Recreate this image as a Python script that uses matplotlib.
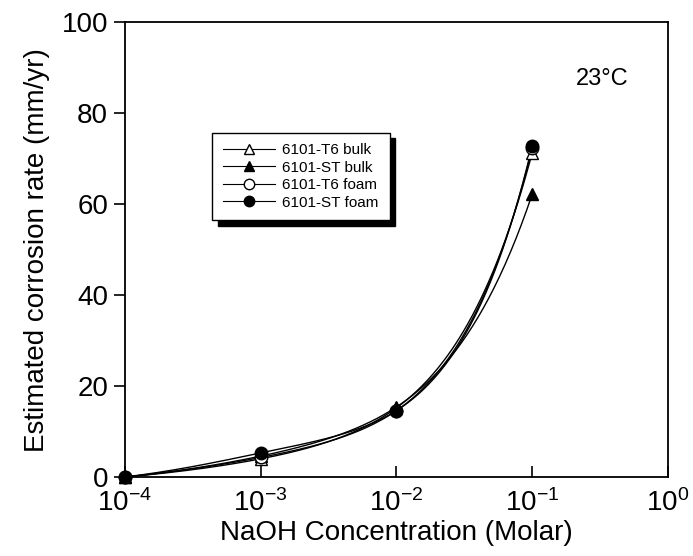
import numpy as np
import matplotlib
matplotlib.use("Agg")
import matplotlib.pyplot as plt

plt.rcParams['font.family'] = ['Liberation Sans', 'DejaVu Sans']
plt.rcParams['mathtext.fontset'] = 'custom'
plt.rcParams['mathtext.rm'] = 'Liberation Sans'
plt.rcParams['mathtext.it'] = 'Liberation Sans'
plt.rcParams['axes.unicode_minus'] = False

conc = [1e-4, 1e-3, 1e-2, 1e-1]
t6_bulk = [0.0, 4.0, 15.2, 71.3]
st_bulk = [0.0, 4.6, 15.4, 62.2]
t6_foam = [0.0, 4.3, 14.6, 72.3]
st_foam = [0.0, 5.3, 14.6, 72.8]

labels = ['6101-T6 bulk', '6101-ST bulk', '6101-T6 foam', '6101-ST foam']
markers = ['^', '^', 'o', 'o']
faces = ['white', 'black', 'white', 'black']


def spline(xs, ys, n=300, off=4.0):
    # natural cubic spline of log(y+off) against log10(x), for a smooth curve
    x = np.log10(xs)
    y = np.log(np.array(ys, dtype=float) + off)
    m = len(x)
    h = np.diff(x)
    A = np.zeros((m, m))
    r = np.zeros(m)
    A[0, 0] = 1
    A[-1, -1] = 1
    for i in range(1, m - 1):
        A[i, i - 1] = h[i - 1]
        A[i, i] = 2 * (h[i - 1] + h[i])
        A[i, i + 1] = h[i]
        r[i] = 3 * ((y[i + 1] - y[i]) / h[i] - (y[i] - y[i - 1]) / h[i - 1])
    c = np.linalg.solve(A, r)
    xx = np.linspace(x[0], x[-1], n)
    yy = np.zeros(n)
    for k, xv in enumerate(xx):
        i = min(np.searchsorted(x, xv, side='right') - 1, m - 2)
        d = xv - x[i]
        b = (y[i + 1] - y[i]) / h[i] - h[i] * (2 * c[i] + c[i + 1]) / 3
        dd = (c[i + 1] - c[i]) / (3 * h[i])
        yy[k] = y[i] + b * d + c[i] * d ** 2 + dd * d ** 3
    return 10 ** xx, np.exp(yy) - off


fig = plt.figure(figsize=(6.93, 5.56), dpi=100)
ax = fig.add_axes([0.180, 0.142, 0.784, 0.818])

series = [t6_bulk, st_bulk, t6_foam, st_foam]
handles = []
for ys, mk, fc, lb in zip(series, markers, faces, labels):
    sx, sy = spline(conc, ys)
    ax.plot(sx, sy, color='black', lw=1.0, zorder=2)
    ax.plot(conc, ys, linestyle='none', marker=mk, ms=9, mfc=fc, mec='black',
            mew=1, zorder=3, clip_on=False)
    h, = ax.plot([], [], color='black', lw=0.8, marker=mk, ms=7.5, mfc=fc,
                 mec='black', mew=1, label=lb)
    handles.append(h)

ax.set_xscale('log')
ax.set_xlim(1e-4, 1)
ax.set_ylim(0, 100)
ax.set_xticks([1e-4, 1e-3, 1e-2, 1e-1, 1])
ax.set_xticklabels([r'$10^{-4}$', r'$10^{-3}$', r'$10^{-2}$', r'$10^{-1}$', r'$10^{0}$'])
ax.minorticks_off()
ax.set_yticks([0, 20, 40, 60, 80, 100])
ax.tick_params(axis='x', direction='in', length=8, width=1.2, labelsize=20, pad=9)
ax.tick_params(axis='y', direction='out', length=8, width=1.2, labelsize=20, pad=4)
for s in ax.spines.values():
    s.set_linewidth(1.3)

ax.set_xlabel('NaOH Concentration (Molar)', fontsize=20, labelpad=2)
ax.set_ylabel('Estimated corrosion rate (mm/yr)', fontsize=20, labelpad=8)

ax.text(0.327, 87.5, '23°C', fontsize=17, ha='center', va='center')

leg = ax.legend(handles=handles, loc='upper left', bbox_to_anchor=(0.161, 0.757),
                borderaxespad=0, fontsize=11, frameon=True, fancybox=False,
                handlelength=3.4, borderpad=0.7, labelspacing=0.22, handletextpad=0.5,
                shadow={'color': 'black', 'alpha': 1, 'ox': 4, 'oy': -4})
leg.get_frame().set_edgecolor('black')
leg.get_frame().set_linewidth(1.0)

fig.savefig('out.png', dpi=100)
